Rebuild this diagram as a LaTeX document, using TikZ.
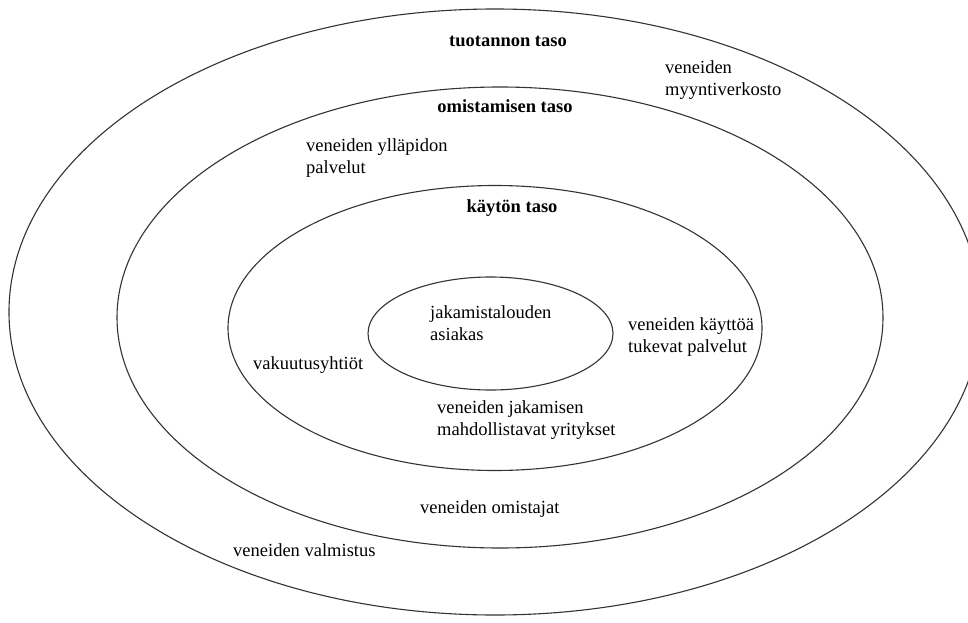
\documentclass[tikz,border=0pt]{standalone}
\usepackage{fontspec}
\setmainfont{Liberation Serif}
\begin{document}
\begin{tikzpicture}[x=1pt,y=-1pt,
  ring/.style={draw=black!80,line width=1.1pt},
  lbl/.style={inner sep=0pt,font=\fontsize{18.5}{22}\selectfont,align=left},
  head/.style={inner sep=0pt,font=\fontsize{18.5}{22}\selectfont\bfseries}]
\useasboundingbox (0,0) rectangle (968,623);
\clip (0,0) rectangle (968,623);
\fill[white] (0,0) rectangle (968,623);

% ring centres
\coordinate (c1) at (495,312);
\coordinate (c2) at (500,317.5);
\coordinate (c3) at (495,328);
\coordinate (c4) at (490.5,333.5);

% nested levels
\draw[ring] (c1) ellipse [x radius=486, y radius=303];
\draw[ring] (c2) ellipse [x radius=383, y radius=230.5];
\draw[ring] (c3) ellipse [x radius=267, y radius=142.5];
\draw[ring] (c4) ellipse [x radius=122.5, y radius=56.5];

% level titles
\node[head,anchor=base] (tuotanto) at (508,46.5) {tuotannon taso};
\node[head,anchor=base] (omistus) at (505,113) {omistamisen taso};
\node[head,anchor=base] (kaytto) at (512,212) {käytön taso};

% actors
\node[lbl,anchor=west] (myynti) at (665,80) {veneiden\\myyntiverkosto};
\node[lbl,anchor=west] (yllapito) at (306,158) {veneiden ylläpidon\\palvelut};
\node[lbl,anchor=west] (asiakas) at (430,323) {jakamistalouden\\asiakas};
\node[lbl,anchor=west] (tuki) at (628,337.5) {veneiden käyttöä\\tukevat palvelut};
\node[lbl,anchor=base west] (vakuutus) at (253,369) {vakuutusyhtiöt};
\node[lbl,anchor=west] (jakaminen) at (437,420) {veneiden jakamisen\\mahdollistavat yritykset};
\node[lbl,anchor=base west] (omistajat) at (420,513) {veneiden omistajat};
\node[lbl,anchor=base west] (valmistus) at (233,556) {veneiden valmistus};
\end{tikzpicture}
\end{document}
